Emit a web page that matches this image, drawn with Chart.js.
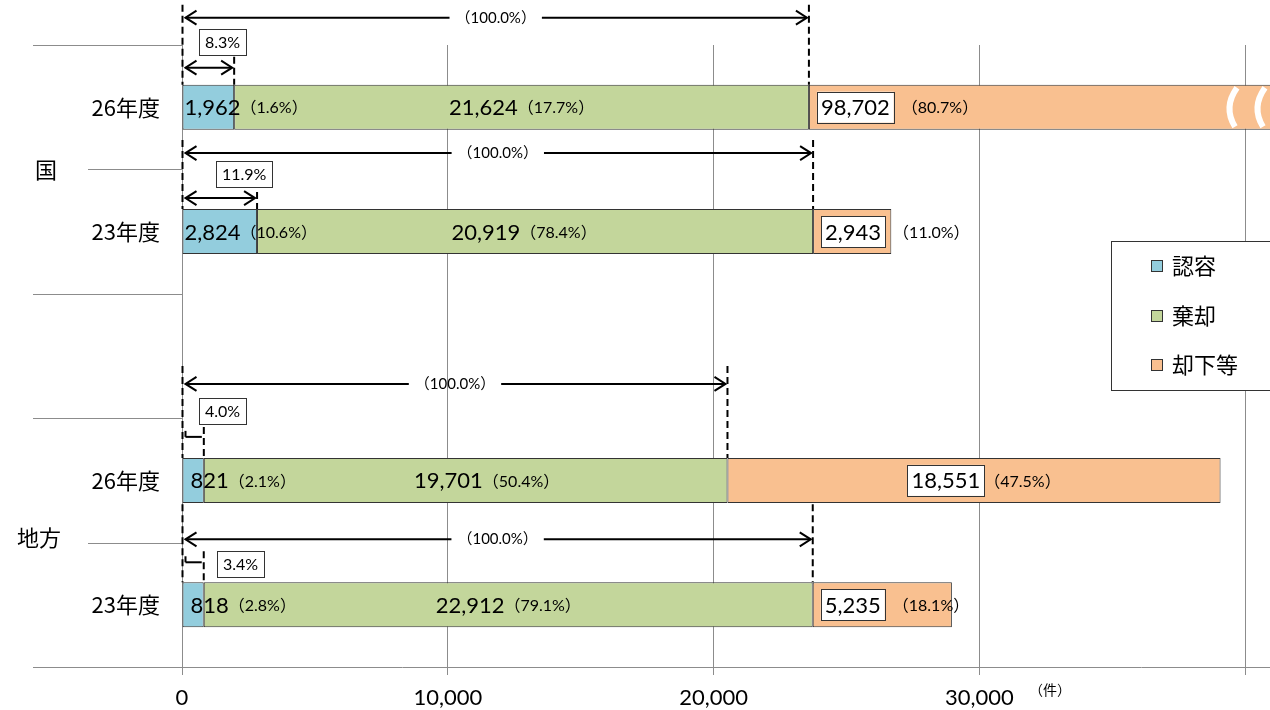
<!DOCTYPE html>
<html><head><meta charset="utf-8">
<script src="https://cdn.jsdelivr.net/npm/chart.js@4.4.1/dist/chart.umd.min.js"></script>
<style>
html,body{margin:0;padding:0;background:#fff;overflow:hidden;width:1270px;height:710px}
#wrap{position:relative;width:1270px;height:710px;overflow:hidden;background:#fff}
#c{position:absolute;left:0;top:0}
</style></head><body>
<div id="wrap"><canvas id="c" width="1560" height="710"></canvas></div>
<script>
// ---- data ----
const categories = ['26年度', '23年度', '', '26年度', '23年度'];
const groupLabels = ['国', '', '地方'];
const groupRanges = [[0, 1], [2, 2], [3, 4]];
const seriesNames = ['認容', '棄却', '却下等'];
const ninyo   = [1962, 2824, null, 821, 818];
const kikyaku = [21624, 20919, null, 19701, 22912];
const kyakka  = [98702, 2943, null, 18551, 5235];
const ninyoPct   = ['（1.6%）', '（10.6%）', '', '（2.1%）', '（2.8%）'];
const kikyakuPct = ['（17.7%）', '（78.4%）', '', '（50.4%）', '（79.1%）'];
const kyakkaPct  = ['（80.7%）', '（11.0%）', '', '（47.5%）', '（18.1%）'];
const decidedShare = ['8.3%', '11.9%', '', '4.0%', '3.4%'];
const wholeShare = '（100.0%）';
const xTickValues = [0, 10000, 20000, 30000, 40000, 50000];
const xTickLabels = ['0', '10,000', '20,000', '30,000', '', ''];
const unitLabel = '（件）';

// ---- styling / layout (not data) ----
const colors = ['#93CDDD', '#C3D69B', '#F9C090'];
const NUMFONT = 'Lato, "Noto Sans CJK JP", sans-serif';
const JPFONT = '"Noto Sans CJK JP", sans-serif';
const PCTSIZE = 16;
const ninyoLabelDx = [2, 2, 0, 8, 8];
const kikyakuLabelDx = [0, -11, 0, 21, 0];
const kyakkaMode = ['start', 'start', '', 'center', 'start'];
const dimLayout = [
  {bigDy: -67, dashTop: -80, smallDy: -17, smallTop: -28, boxDx: 16, boxDy: -43},
  {bigDy: -56, dashTop: -69, smallDy: -11, smallTop: -17, boxDx: 33, boxDy: -35},
  null,
  {bigDy: -74, dashTop: -92, smallDy: -21, smallTop: -31, boxDx: 16, boxDy: -47},
  {bigDy: -43, dashTop: -78, smallDy: -20, smallTop: -31, boxDx: 34, boxDy: -18}
];
const fmt = v => v.toLocaleString('en-US');

function arrowHead(c, x, y, dir, len, half) {
  c.beginPath();
  c.moveTo(x - dir * len, y - half);
  c.lineTo(x, y);
  c.lineTo(x - dir * len, y + half);
  c.stroke();
}

function drawPair(c, x, y, value, pct, gap) {
  c.font = '22px ' + NUMFONT;
  c.textBaseline = 'middle';
  c.textAlign = 'left';
  c.fillStyle = '#000';
  c.fillText(value, x, y + 1);
  const w = c.measureText(value).width;
  c.font = PCTSIZE + 'px ' + NUMFONT;
  c.fillText(pct, x + w + gap, y + 1);
}
function pairWidth(c, value, pct, gap) {
  c.font = '22px ' + NUMFONT;
  const w1 = c.measureText(value).width;
  c.font = PCTSIZE + 'px ' + NUMFONT;
  return w1 + gap + c.measureText(pct).width;
}

const labelPlugin = {
  id: 'labelPlugin',
  afterDatasetsDraw(chart) {
    const c = chart.ctx;
    const m0 = chart.getDatasetMeta(0), m1 = chart.getDatasetMeta(1), m2 = chart.getDatasetMeta(2);
    c.save();
    for (let j = 0; j < categories.length; j++) {
      if (ninyo[j] == null) continue;
      const e0 = m0.data[j], e1 = m1.data[j], e2 = m2.data[j];
      const y = e0.y;
      // 認容
      drawPair(c, e0.base + ninyoLabelDx[j], y, fmt(ninyo[j]), ninyoPct[j], 0);
      // 棄却 (centered)
      const w1 = pairWidth(c, fmt(kikyaku[j]), kikyakuPct[j], 0);
      drawPair(c, (e1.base + e1.x) / 2 - w1 / 2 + kikyakuLabelDx[j], y, fmt(kikyaku[j]), kikyakuPct[j], 0);
      // 却下等 (boxed value)
      c.font = '22px ' + NUMFONT;
      const tv = fmt(kyakka[j]);
      const tw = c.measureText(tv).width;
      const bw = tw + 8, bh = 31;
      c.font = PCTSIZE + 'px ' + NUMFONT;
      const pw = c.measureText(kyakkaPct[j]).width;
      let bx;
      let gap = 8;
      if (kyakkaMode[j] === 'center') {
        gap = 0;
        const visEnd = Math.min(e2.x, chart.chartArea.right);
        bx = (e2.base + visEnd) / 2 + 10 - (bw + gap + pw) / 2;
      } else {
        bx = e2.base + 8;
      }
      c.fillStyle = '#fff';
      c.strokeStyle = '#333';
      c.lineWidth = 1;
      c.fillRect(bx, y - bh / 2, bw, bh);
      c.strokeRect(Math.round(bx) + 0.5, Math.round(y - bh / 2) + 0.5, Math.round(bw), bh);
      c.fillStyle = '#000';
      c.font = '22px ' + NUMFONT;
      c.textBaseline = 'middle';
      c.textAlign = 'left';
      c.fillText(tv, bx + 4, y + 1);
      c.font = PCTSIZE + 'px ' + NUMFONT;
      c.fillText(kyakkaPct[j], bx + bw + gap, y + 1);
      // truncation marks on bars running past the visible area
      if (e2.x > 1270) {
        c.strokeStyle = '#fff';
        c.lineWidth = 6;
        const top = y - e2.height / 2, bot = y + e2.height / 2;
        [1232, 1260].forEach(mx => {
          c.beginPath();
          c.moveTo(mx + 5, top + 3);
          c.quadraticCurveTo(mx - 9, y, mx + 3, bot - 3);
          c.stroke();
        });
      }
    }
    c.restore();
  }
};

const dimPlugin = {
  id: 'dimPlugin',
  afterDraw(chart) {
    const c = chart.ctx;
    const m0 = chart.getDatasetMeta(0), m1 = chart.getDatasetMeta(1);
    c.save();
    for (let j = 0; j < categories.length; j++) {
      const L = dimLayout[j];
      if (!L || ninyo[j] == null) continue;
      const e0 = m0.data[j], e1 = m1.data[j];
      const start = e0.base, mid = e0.x, end = e1.x;
      const barTop = e0.y - e0.height / 2;
      c.strokeStyle = '#000';
      c.lineWidth = 2;
      // dashed guides
      c.setLineDash([7, 4]);
      [start, end].forEach(px => {
        c.beginPath(); c.moveTo(px, barTop + L.dashTop); c.lineTo(px, barTop); c.stroke();
      });
      c.beginPath(); c.moveTo(mid, barTop + L.smallTop); c.lineTo(mid, barTop); c.stroke();
      c.setLineDash([]);
      // big arrow with text
      const by = barTop + L.bigDy;
      const cx = (start + end) / 2;
      c.font = '15px ' + NUMFONT;
      const tw = c.measureText(wholeShare).width;
      const a1 = start + 3, a2 = end - 2;
      c.beginPath(); c.moveTo(a1, by); c.lineTo(cx - tw / 2 - 6, by); c.stroke();
      c.beginPath(); c.moveTo(cx + tw / 2 + 6, by); c.lineTo(a2, by); c.stroke();
      arrowHead(c, a1, by, -1, 11, 7);
      arrowHead(c, a2, by, 1, 11, 7);
      c.fillStyle = '#000';
      c.textAlign = 'center';
      c.textBaseline = 'middle';
      c.fillText(wholeShare, cx, by);
      // small arrow
      const sy = barTop + L.smallDy;
      const s1 = start + 3, s2 = mid - 2;
      const sl = s2 - s1;
      c.beginPath(); c.moveTo(s1, sy); c.lineTo(s2, sy); c.stroke();
      if (sl > 35) {
        arrowHead(c, s1, sy, -1, 11, 7);
        arrowHead(c, s2, sy, 1, 11, 7);
      } else {
        c.beginPath(); c.moveTo(s1, sy); c.lineTo(s1, sy - 6); c.stroke();
      }
      // share box
      c.font = '16px ' + NUMFONT;
      const bw = c.measureText(decidedShare[j]).width + 12, bh = 26;
      const bx = Math.round(start + L.boxDx), byy = Math.round(barTop + L.boxDy - bh / 2);
      c.fillStyle = '#fff';
      c.fillRect(bx, byy, bw, bh);
      c.lineWidth = 1;
      c.strokeStyle = '#333';
      c.strokeRect(bx + 0.5, byy + 0.5, Math.round(bw), bh);
      c.fillStyle = '#000';
      c.textAlign = 'center';
      c.fillText(decidedShare[j], bx + bw / 2, byy + bh / 2 + 1);
    }
    c.restore();
  }
};

const axisPlugin = {
  id: 'axisPlugin',
  beforeDatasetsDraw(chart) {
    const c = chart.ctx;
    const ys = chart.scales.y;
    const ca = chart.chartArea;
    const p0 = ys.getPixelForValue(0), p1 = ys.getPixelForValue(1);
    const band = p1 - p0;
    const edges = new Set();
    groupRanges.forEach(r => { edges.add(r[0]); edges.add(r[1] + 1); });
    c.save();
    c.strokeStyle = '#8c8c8c';
    c.lineWidth = 1;
    for (let k = 0; k <= categories.length; k++) {
      const yy = Math.round(p0 - band / 2 + k * band) + 0.5;
      const x0 = edges.has(k) ? 33 : 88;
      const x1 = k === categories.length ? ca.right : ca.left;
      c.beginPath(); c.moveTo(x0, yy); c.lineTo(x1, yy); c.stroke();
    }
    // group labels
    c.fillStyle = '#000';
    c.font = '22px ' + JPFONT;
    c.textAlign = 'right';
    c.textBaseline = 'middle';
    groupRanges.forEach((r, g) => {
      if (!groupLabels[g]) return;
      const yc = (ys.getPixelForValue(r[0]) + ys.getPixelForValue(r[1])) / 2;
      c.fillText(groupLabels[g], g === 0 ? 57 : 61, yc - (g === 0 ? 0 : 5));
    });
    // unit label
    c.font = '14px ' + JPFONT;
    c.textAlign = 'center';
    c.fillText(unitLabel, 1050, 690);
    c.restore();
  },
  afterDraw(chart) {
    // legend
    const c = chart.ctx;
    c.save();
    c.fillStyle = '#fff';
    c.strokeStyle = '#333';
    c.lineWidth = 1;
    c.fillRect(1111, 241, 220, 149);
    c.strokeRect(1111.5, 241.5, 220, 149);
    c.font = '22px ' + JPFONT;
    c.textAlign = 'left';
    c.textBaseline = 'middle';
    chart.data.datasets.forEach((ds, i) => {
      const yy = 266 + i * 49.5;
      c.fillStyle = ds.backgroundColor;
      c.fillRect(1151, Math.round(yy - 6), 11, 11);
      c.strokeStyle = '#333';
      c.strokeRect(1151.5, Math.round(yy - 6) + 0.5, 11, 11);
      c.fillStyle = '#000';
      c.fillText(ds.label, 1172, yy);
    });
    c.restore();
  }
};

new Chart(document.getElementById('c'), {
  type: 'bar',
  data: {
    labels: categories,
    datasets: [
      {label: seriesNames[0], data: ninyo, backgroundColor: colors[0]},
      {label: seriesNames[1], data: kikyaku, backgroundColor: colors[1]},
      {label: seriesNames[2], data: kyakka, backgroundColor: colors[2]}
    ].map(d => Object.assign(d, {borderColor: '#333', borderWidth: 1, borderSkipped: false,
      categoryPercentage: 1, barPercentage: 0.362}))
  },
  options: {
    indexAxis: 'y',
    responsive: false,
    animation: false,
    devicePixelRatio: 1,
    layout: {padding: {top: 45, right: 49, left: 0, bottom: 0}},
    plugins: {legend: {display: false}, tooltip: {enabled: false}},
    scales: {
      x: {
        stacked: true, min: 0, max: 50000,
        afterBuildTicks: s => { s.ticks = xTickValues.map(v => ({value: v})); },
        afterFit: s => { s.height = 43; },
        border: {display: false},
        grid: {color: '#8c8c8c', lineWidth: 1, drawTicks: true, tickLength: 8},
        ticks: {
          autoSkip: false, maxRotation: 0, padding: 10, color: '#000',
          font: {family: NUMFONT, size: 22},
          callback: (v, i) => xTickLabels[i]
        }
      },
      y: {
        stacked: true,
        afterFit: s => { s.width = 182; },
        border: {display: false},
        grid: {display: false, drawTicks: false},
        ticks: {padding: 22, color: '#000', font: {family: JPFONT, size: 22}}
      }
    }
  },
  plugins: [axisPlugin, labelPlugin, dimPlugin]
});
</script>
</body></html>
